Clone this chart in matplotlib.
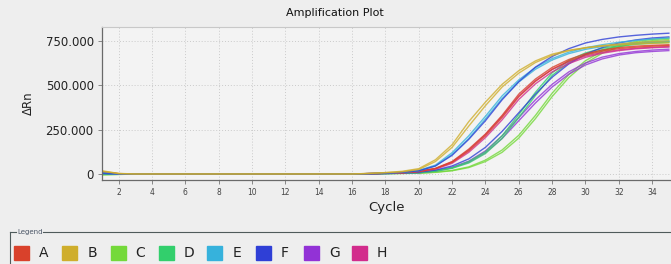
import matplotlib
matplotlib.use('Agg')
import matplotlib.pyplot as plt
from matplotlib.ticker import FuncFormatter
from matplotlib.patches import Rectangle
from matplotlib.lines import Line2D

cycles = list(range(1, 36))
names = ['A', 'B', 'C', 'D', 'E', 'F', 'G', 'H']
colors = ['#d9412b', '#cfae2c', '#74d93a', '#32cf6c', '#36b2dc', '#2f3fd6', '#9232d6', '#d22c8c']

# two replicate wells per sample, values in thousands
A1 = [12,2,0,0,0,0,0,0,0,0,0,0,0,0,0,0,2,4,8,15,32,70,140,225,330,450,535,600,645,677,698,712,720,725,728]
A2 = [10,1,0,0,0,0,0,0,0,0,0,0,0,0,0,0,2,4,7,14,30,65,130,215,318,435,522,590,637,670,692,706,714,720,724]
B1 = [18,3,0,0,0,0,0,0,0,0,0,0,0,0,0,0,3,8,15,30,80,165,295,405,505,582,637,675,697,711,720,727,732,736,739]
B2 = [15,2,0,0,0,0,0,0,0,0,0,0,0,0,0,0,3,7,12,25,70,150,270,385,490,568,628,668,694,711,723,732,740,745,750]
C1 = [-4,-2,0,0,0,0,0,0,0,0,0,0,0,0,0,0,1,2,3,5,10,20,40,78,135,218,330,455,560,638,692,726,746,758,765]
C2 = [-5,-3,0,0,0,0,0,0,0,0,0,0,0,0,0,0,1,2,3,4,9,18,36,70,122,202,312,436,543,624,680,716,738,751,758]
D1 = [2,0,0,0,0,0,0,0,0,0,0,0,0,0,0,0,1,3,5,8,18,35,70,125,215,335,460,570,640,682,708,724,735,742,747]
D2 = [-2,-1,0,0,0,0,0,0,0,0,0,0,0,0,0,0,1,2,4,7,15,32,62,115,200,318,442,555,628,672,700,718,730,737,741]
E1 = [6,0,0,0,0,0,0,0,0,0,0,0,0,0,0,0,2,5,10,20,50,120,215,325,440,530,600,650,686,711,728,742,752,760,766]
E2 = [5,0,0,0,0,0,0,0,0,0,0,0,0,0,0,0,2,5,9,18,45,110,200,310,425,518,590,642,678,702,718,730,738,744,748]
F1 = [4,0,0,0,0,0,0,0,0,0,0,0,0,0,0,0,2,4,9,18,45,105,195,300,418,520,602,662,706,738,758,772,781,788,793]
F2 = [3,0,0,0,0,0,0,0,0,0,0,0,0,0,0,0,1,3,6,10,22,45,85,150,240,345,450,545,620,675,712,738,755,766,772]
G1 = [3,0,0,0,0,0,0,0,0,0,0,0,0,0,0,0,1,3,5,8,18,38,72,130,215,318,418,505,575,625,658,678,690,698,703]
G2 = [2,0,0,0,0,0,0,0,0,0,0,0,0,0,0,0,1,2,4,7,16,34,66,120,200,300,400,490,562,614,648,670,683,690,695]
H1 = [8,1,0,0,0,0,0,0,0,0,0,0,0,0,0,0,2,4,7,15,30,68,135,222,325,440,525,588,632,664,685,699,708,714,718]
H2 = [7,1,0,0,0,0,0,0,0,0,0,0,0,0,0,0,2,4,6,13,27,60,122,205,305,420,508,575,622,657,680,695,705,711,715]

wells = [(C1, 2), (C2, 2), (G1, 6), (G2, 6), (D1, 3), (D2, 3), (F2, 5),
         (H1, 7), (H2, 7), (A1, 0), (A2, 0), (E2, 4), (E1, 4), (F1, 5), (B2, 1), (B1, 1)]

fig = plt.figure(figsize=(6.71, 2.64), dpi=100)
fig.patch.set_facecolor('#eeeeee')
ax = fig.add_axes([102/671, 84/264, 569/671, 153/264])
ax.set_facecolor('#f3f3f3')

for vals, ci in wells:
    ax.plot(cycles, vals, color=colors[ci], lw=1.0, alpha=0.8)

ax.set_xlim(1, 35.13)
ax.set_ylim(-34, 828)
ax.set_xticks(range(2, 35, 2))
ax.set_yticks([0, 250, 500, 750])
ax.yaxis.set_major_formatter(FuncFormatter(lambda v, p: '0' if v == 0 else '%.3f' % v))
ax.grid(True, color='#cacaca', linestyle=(0, (1, 2)), lw=0.7)
ax.tick_params(axis='x', labelsize=5.5, length=3, width=0.6, color='#777777', labelcolor='#444444', pad=3)
ax.tick_params(axis='y', labelsize=8.5, length=3, width=0.6, color='#777777', labelcolor='#222222', pad=3)
ax.spines['top'].set_color('#c8c8c8')
ax.spines['top'].set_linewidth(0.8)
ax.spines['right'].set_visible(False)
for s in ['left', 'bottom']:
    ax.spines[s].set_color('#6a6a6a')
    ax.spines[s].set_linewidth(0.9)

ax.set_xlabel('Cycle', fontsize=9.5, color='#222222', labelpad=3)
ax.set_ylabel('ΔRn', fontsize=8.5, color='#222222', labelpad=8)
fig.text(335/671, 1 - 13/264, 'Amplification Plot', ha='center', va='center', fontsize=8, color='#111111')

# legend panel
W, H = 671, 264
ly = 1 - 232/H
fig.add_artist(Line2D([10/W, 16/W], [ly, ly], color='#4f5b5b', lw=0.8))
fig.add_artist(Line2D([43/W, 1], [ly, ly], color='#4f5b5b', lw=0.8))
fig.add_artist(Line2D([10/W, 10/W], [ly, 0], color='#4f5b5b', lw=0.8))
fig.text(30/W, ly, 'Legend', ha='center', va='center', fontsize=5, color='#4a5566')
for i, n in enumerate(names):
    x0 = 14 + i * 48.3
    fig.add_artist(Rectangle((x0/W, 1 - 260/H), 15/W, 14/H, color=colors[i], transform=fig.transFigure))
    fig.text((x0 + 25)/W, 1 - 253/H, n, ha='left', va='center', fontsize=10, color='#222222')

fig.savefig('out.png', dpi=100, facecolor=fig.get_facecolor())
